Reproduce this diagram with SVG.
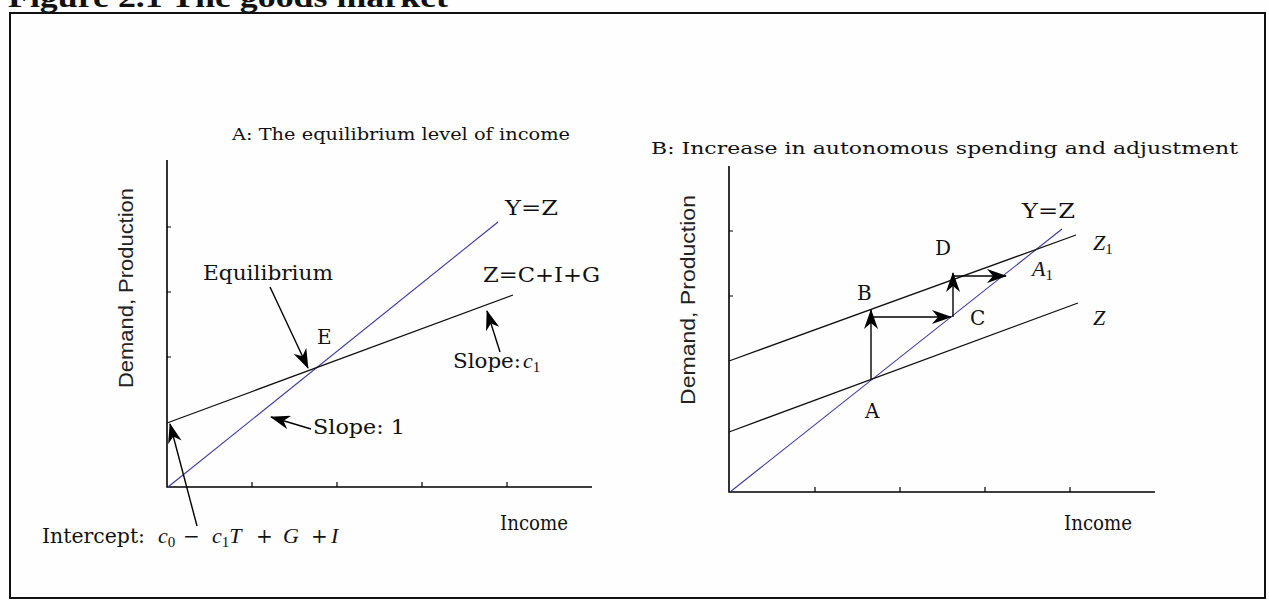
<svg xmlns="http://www.w3.org/2000/svg" width="1269" height="600" viewBox="0 0 1269 600">
<style>
.ax{stroke:#000;stroke-width:1.6;fill:none}
.tk{stroke:#000;stroke-width:1.2}
.ln{stroke:#111;stroke-width:1.3;fill:none}
.yz{stroke:#3a3a9a;stroke-width:1.1;fill:none}
.ar{stroke:#000;stroke-width:1.4;fill:none;marker-end:url(#ah)}
.lb{font-family:"DejaVu Serif",serif;font-size:20px;fill:#111}
.tt{font-family:"DejaVu Serif",serif;font-size:17px;fill:#111}
.mi{font-family:"Liberation Serif",serif;font-style:italic;font-size:22px;fill:#111}
.sub{font-family:"Liberation Serif",serif;font-style:normal;font-size:15px}
.sans{font-family:"Liberation Sans",Arial,sans-serif;font-size:21px;fill:#222}
</style>
<defs>
<marker id="ah" viewBox="0 0 20 14" refX="19" refY="7" markerWidth="20" markerHeight="14" markerUnits="userSpaceOnUse" orient="auto"><path d="M0,0 L20,7 L0,14 L6,7 Z" fill="#000"/></marker>
</defs>
<rect width="1269" height="600" fill="#fefefe"/>
<g id="title"><text x="8" y="7" font-family="'Liberation Serif',serif" font-weight="bold" font-size="30" textLength="440" lengthAdjust="spacingAndGlyphs" fill="#111">Figure 2.1 The goods market</text></g>
<g id="frame"><rect x="10" y="13" width="1255" height="585" fill="none" stroke="#111" stroke-width="2"/></g>

<g id="panelA">
  <g id="axesA">
    <path class="ax" d="M167,160 L167,487 L592,487"/>
    <path class="tk" d="M167,227 h4 M167,292 h4 M167,357 h4 M252,487 v-5 M337,487 v-5 M422,487 v-5 M507,487 v-5"/>
  </g>
  <g id="lineYZ-A"><path class="yz" d="M168,487 L498,222"/></g>
  <g id="lineZ-A"><path class="ln" d="M167,423 L513,295"/></g>
  <g id="titleA"><text class="tt" x="232" y="140" textLength="338" lengthAdjust="spacingAndGlyphs">A: The equilibrium level of income</text></g>
  <g id="ylabelA"><text class="sans" transform="translate(133,288) rotate(-90)" text-anchor="middle" textLength="200" lengthAdjust="spacingAndGlyphs">Demand, Production</text></g>
  <g id="xlabelA"><text class="lb" x="500" y="530" font-size="18" textLength="68" lengthAdjust="spacingAndGlyphs">Income</text></g>
  <g id="labelEquilibrium"><text class="lb" x="203" y="280" textLength="130" lengthAdjust="spacingAndGlyphs">Equilibrium</text></g>
  <g id="labelE"><text class="lb" x="317" y="344">E</text></g>
  <g id="labelYZ-A"><text class="lb" x="505" y="215" textLength="53" lengthAdjust="spacingAndGlyphs">Y=Z</text></g>
  <g id="labelZCIG"><text class="lb" x="483" y="282" textLength="117" lengthAdjust="spacingAndGlyphs">Z=C+I+G</text></g>
  <g id="labelSlopeC1"><text class="lb" x="453" y="368" textLength="68" lengthAdjust="spacingAndGlyphs">Slope:</text><text class="mi" x="523" y="368">c<tspan class="sub" dy="4">1</tspan></text></g>
  <g id="labelSlope1"><text class="lb" x="313" y="434" textLength="92" lengthAdjust="spacingAndGlyphs">Slope: 1</text></g>
  <g id="labelIntercept">
    <text class="lb" x="42" y="543" textLength="103" lengthAdjust="spacingAndGlyphs">Intercept:</text>
    <text class="mi" x="158" y="543">c<tspan class="sub" dy="4">0</tspan></text>
    <text class="lb" x="183" y="543" font-family="'Liberation Serif',serif" font-size="24">−</text>
    <text class="mi" x="212" y="543">c<tspan class="sub" dy="4">1</tspan><tspan dy="-4">T</tspan></text>
    <text class="lb" x="256" y="543" font-family="'Liberation Serif',serif" font-size="24">+</text>
    <text class="mi" x="283" y="543">G</text>
    <text class="lb" x="311" y="543" font-family="'Liberation Serif',serif" font-size="24">+</text>
    <text class="mi" x="331" y="543">I</text>
  </g>
</g>

<g id="panelB">
  <g id="axesB">
    <path class="ax" d="M729,166 L729,492 L1155,492"/>
    <path class="tk" d="M729,231 h4 M729,296 h4 M815,492 v-5 M900,492 v-5 M985,492 v-5 M1070,492 v-5"/>
  </g>
  <g id="lineYZ-B"><path class="yz" d="M730,492 L1062,229"/></g>
  <g id="lineZ-B"><path class="ln" d="M729,432 L1078,303"/></g>
  <g id="lineZ1-B"><path class="ln" d="M729,361 L1076,235"/></g>
  <g id="titleB"><text class="tt" x="651" y="154" textLength="587" lengthAdjust="spacingAndGlyphs">B: Increase in autonomous spending and adjustment</text></g>
  <g id="ylabelB"><text class="sans" transform="translate(695,300) rotate(-90)" text-anchor="middle" textLength="210" lengthAdjust="spacingAndGlyphs">Demand, Production</text></g>
  <g id="xlabelB"><text class="lb" x="1064" y="530" font-size="18" textLength="68" lengthAdjust="spacingAndGlyphs">Income</text></g>
  <g id="labelA"><text class="lb" x="865" y="418">A</text></g>
  <g id="labelB"><text class="lb" x="857" y="300">B</text></g>
  <g id="labelC"><text class="lb" x="970" y="325">C</text></g>
  <g id="labelD"><text class="lb" x="935" y="255">D</text></g>
  <g id="labelYZ-B"><text class="lb" x="1022" y="218" textLength="53" lengthAdjust="spacingAndGlyphs">Y=Z</text></g>
  <g id="labelZ1"><text class="mi" x="1093" y="250">Z<tspan class="sub" dy="4">1</tspan></text></g>
  <g id="labelA1"><text class="mi" x="1032" y="276">A<tspan class="sub" dy="4">1</tspan></text></g>
  <g id="labelZ"><text class="mi" x="1093" y="325">Z</text></g>
</g>

<g id="connectors">
  <path class="ar" d="M270,287 L308,368"/>
  <path class="ar" d="M500,352 L487,311"/>
  <path class="ar" d="M311,429 L271,417"/>
  <path class="ar" d="M197,526 L170,424"/>
  <path class="ar" d="M871,379 L871,310"/>
  <path class="ar" d="M873,317 L951,317"/>
  <path class="ar" d="M953,317 L953,273"/>
  <path class="ar" d="M953,276 L1006,276"/>
</g>
</svg>
